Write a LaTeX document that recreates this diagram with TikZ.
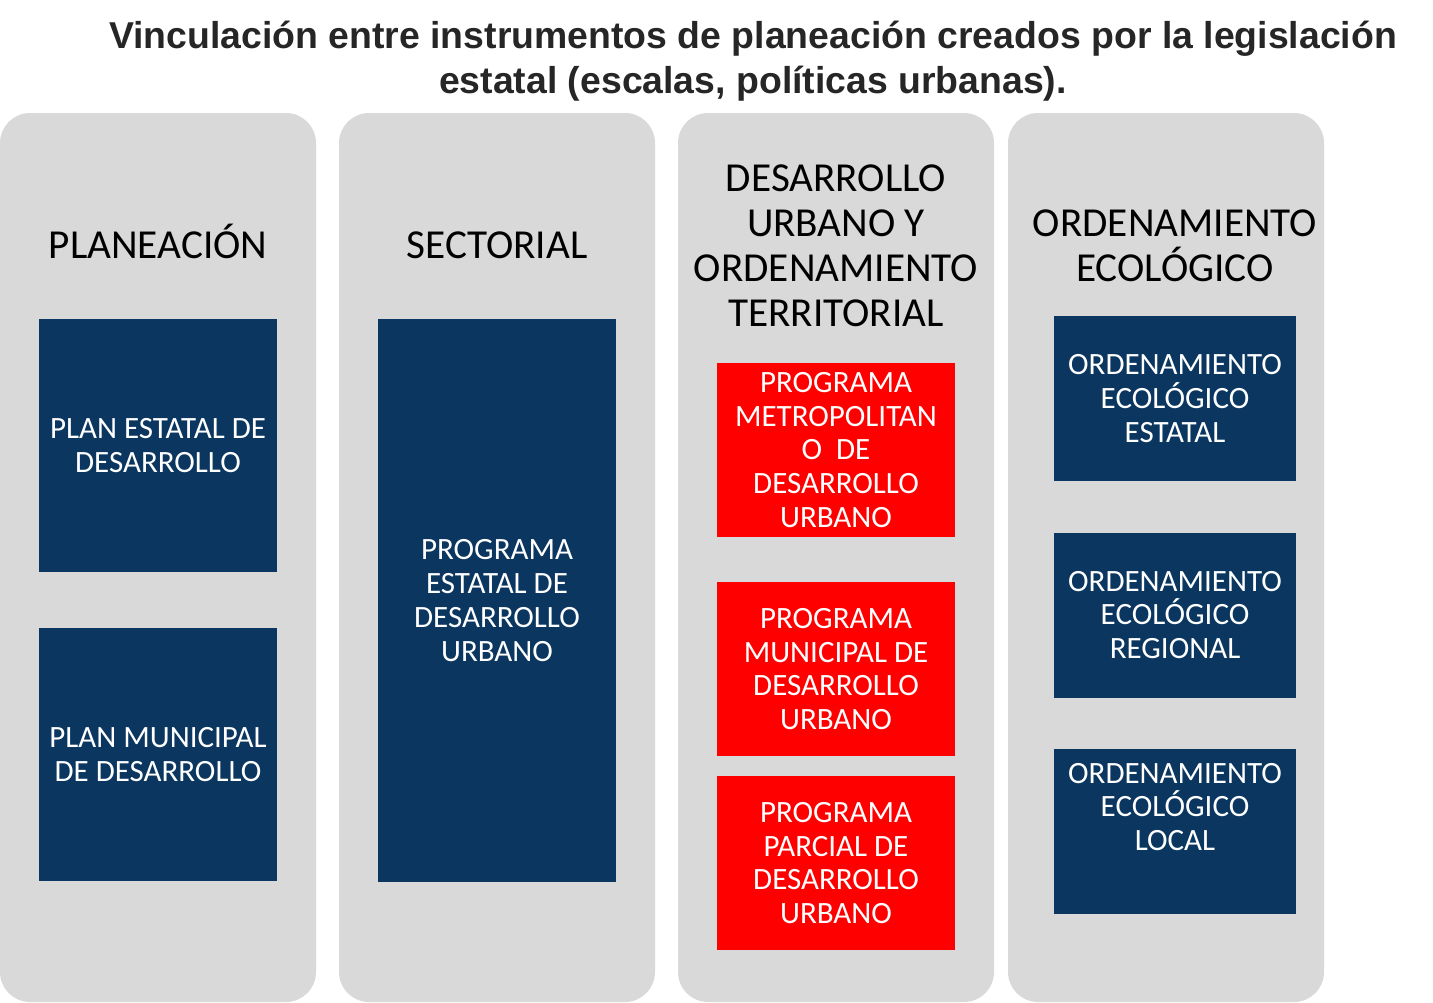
\documentclass[tikz,border=0pt]{standalone}
\usepackage{fontspec}
\setmainfont{Carlito}
\newfontfamily\titlefont{Liberation Sans}
\definecolor{cblue}{HTML}{0A3660}
\definecolor{cred}{HTML}{FF0000}
\definecolor{cgray}{HTML}{D9D9D9}
\definecolor{ctitle}{HTML}{262626}

\begin{document}
\begin{tikzpicture}[x=0.5pt, y=-0.5pt,
  column/.style={fill=cgray, rounded corners=15pt, inner sep=0pt,
    minimum width=158pt, minimum height=444.5pt},
  header/.style={align=center, inner sep=0pt,
    font=\fontsize{20.6pt}{22.5pt}\selectfont},
  bluebox/.style={fill=cblue, text=white, align=center, inner sep=0pt,
    minimum width=119pt, font=\fontsize{15.5pt}{16.85pt}\selectfont},
  redbox/.style={bluebox, fill=cred}]
  \useasboundingbox (0,0) rectangle (1433,1002);

  % title
  \node[align=center, text=ctitle,
    font=\titlefont\bfseries\fontsize{18.7pt}{22.5pt}\selectfont] (title) at (753,61)
    {Vinculación entre instrumentos de planeación creados por la legislación\\
     estatal (escalas, políticas urbanas).};

  % columns
  \node[column] (plan) at (158,557.5) {};
  \node[column] (sect) at (497,557.5) {};
  \node[column] (urb) at (836,557.5) {};
  \node[column] (eco) at (1166,557.5) {};

  \node[header] (planh) at (158,241) {PLANEACIÓN};
  \node[header] (secth) at (497,245) {SECTORIAL};
  \node[header] (urbh) at (836,245.5) {DESARROLLO\\URBANO Y\\ORDENAMIENTO\\TERRITORIAL};
  \node[header] (ecoh) at (1175,245.5) {ORDENAMIENTO\\ECOLÓGICO};

  % planeacion
  \node[bluebox, minimum height=126.5pt] (ped) at (158,445.5) {PLAN ESTATAL DE\\DESARROLLO};
  \node[bluebox, minimum height=126.5pt] (pmd) at (158,754.5) {PLAN MUNICIPAL\\DE DESARROLLO};

  % sectorial
  \node[bluebox, minimum height=281.5pt] (pedu) at (497,600.5) {PROGRAMA\\ESTATAL DE\\DESARROLLO\\URBANO};

  % desarrollo urbano
  \node[redbox, minimum height=87pt] (pmetro) at (836,450) {PROGRAMA\\METROPOLITAN\\O\ \ DE\\DESARROLLO\\URBANO};
  \node[redbox, minimum height=87pt] (pmdu) at (836,669) {PROGRAMA\\MUNICIPAL DE\\DESARROLLO\\URBANO};
  \node[redbox, minimum height=87pt] (ppdu) at (836,863) {PROGRAMA\\PARCIAL DE\\DESARROLLO\\URBANO};

  % ordenamiento ecologico
  \node[bluebox, minimum width=121pt, minimum height=82.5pt] (oeest) at (1175,398.5) {ORDENAMIENTO\\ECOLÓGICO\\ESTATAL};
  \node[bluebox, minimum width=121pt, minimum height=82.5pt] (oereg) at (1175,615) {ORDENAMIENTO\\ECOLÓGICO\\REGIONAL};
  \node[bluebox, minimum width=121pt, minimum height=82.5pt] (oeloc) at (1175,831) {};
  \node[bluebox, fill=none] (oeloctxt) at (1175,807) {ORDENAMIENTO\\ECOLÓGICO\\LOCAL};
\end{tikzpicture}
\end{document}
